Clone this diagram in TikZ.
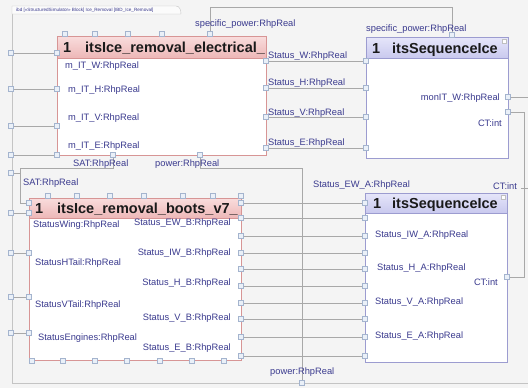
\documentclass[tikz,border=0pt]{standalone}
\usepackage{fontspec}
\setmainfont{Liberation Sans}
\definecolor{bgc}{HTML}{F4F4F4}
\definecolor{framec}{HTML}{C4C4C4}
\definecolor{conc}{HTML}{A8A8A8}
\definecolor{lblc}{HTML}{3A3A8E}
\definecolor{prtf}{HTML}{EAF0F8}
\definecolor{prtd}{HTML}{A4B4CE}
\definecolor{redtop}{HTML}{F9DDDD}
\definecolor{redbot}{HTML}{EDB7B7}
\definecolor{redbd}{HTML}{D79595}
\definecolor{bluetop}{HTML}{E6E6FA}
\definecolor{bluebot}{HTML}{C9C9EE}
\definecolor{bluebd}{HTML}{9C9CD0}
\definecolor{titlec}{HTML}{1A1A1A}
\newcommand\prt[3]{\node[prt] (#1) at (#2,#3) {};}
\newcommand\blk[9]{% name x1 y1 x2 y2 yh top bot border
  \node[draw=none,fill=white,minimum width=#4pt-#2pt,minimum height=#5pt-#3pt,inner sep=0pt,anchor=north west] (#1) at (#2,#3) {};
  \shade[top color=#7,bottom color=#8] (#2,#3) rectangle (#4,#6);
  \draw[#9,line width=0.8pt] (#2,#3) rectangle (#4,#5);
  \draw[#9,line width=0.5pt] (#2,#6) -- (#4,#6);}
\begin{document}
\begin{tikzpicture}[x=1pt,y=-1pt,
  prt/.style={draw=prtd,fill=prtf,line width=0.35pt,minimum size=5pt,inner sep=0pt},
  con/.style={draw=conc,line width=0.6pt},
  lbl/.style={text=lblc,font=\fontsize{9.3}{11}\selectfont,inner sep=0pt},
  ttl/.style={text=titlec,font=\fontsize{14.5}{16}\selectfont\bfseries,inner sep=0pt,anchor=base west},
  icn/.style={draw=gray!50,fill=white,minimum size=4pt,inner sep=0pt,line width=0.3pt}]
\useasboundingbox (0,0) rectangle (528,388);
\fill[bgc] (0,0) rectangle (528,388);
% frame
\draw[framec,line width=0.5pt] (12,14) -- (12,383) -- (528,383);
\draw[framec,fill=white!60!bgc,line width=0.4pt] (12,14) -- (12,6) -- (176,6) to[out=0,in=90] (181,14) -- cycle;
\node[text=lblc,font=\fontsize{4.6}{5}\selectfont,anchor=west,inner sep=0pt] (tab) at (16,10) {ibd [«StructuredSimulator» Block] Ice\_Removal [IBD\_Ice\_Removal]};
% blocks
\blk{elec}{57}{36}{266}{155}{58}{redtop}{redbot}{redbd}
\blk{seqa}{366}{37}{508}{158}{58}{bluetop}{bluebot}{bluebd}
\blk{boots}{29}{198}{241}{360}{218}{redtop}{redbot}{redbd}
\blk{seqb}{365}{193}{507}{362}{213}{bluetop}{bluebot}{bluebd}
\node[ttl] (t1n) at (63,52.5) {1};
\node[ttl] (t1) at (85,52.5) {itsIce\_removal\_electrical\_};
\node[ttl] (t2n) at (372,53) {1};
\node[ttl] (t2) at (392,53) {itsSequenceIce};
\node[ttl] (t3n) at (35,213.5) {1};
\node[ttl] (t3) at (57,213.5) {itsIce\_removal\_boots\_v7\_};
\node[ttl] (t4n) at (373,208.5) {1};
\node[ttl] (t4) at (392,208.5) {itsSequenceIce};
\node[icn] (ic1) at (504,41) {};
\node[icn] (ic2) at (503,197) {};
% coordinates
\coordinate (topc) at (210,7);
\coordinate (monend) at (528,97);
\coordinate (ctr) at (524,112);
\coordinate (ctstubA) at (521,188);
\coordinate (ctstubB) at (528,188);
\coordinate (j1) at (20,168);
\coordinate (jp) at (302,168);
% electrical ports
\prt{fl1}{11}{53}\prt{fl2}{11}{89}\prt{fl3}{11}{126}\prt{fl4}{11}{155}
\prt{el1}{57}{53}\prt{el2}{57}{89}\prt{el3}{57}{126}\prt{el4}{57}{155}
\prt{et1}{65}{34}\prt{et2}{95}{34}\prt{et3}{128}{34}\prt{et4}{162}{34}\prt{esp}{210}{34}
\prt{er1}{266}{61}\prt{er2}{266}{88}\prt{er3}{266}{117}\prt{er4}{266}{148}
\prt{esat}{113}{155}\prt{epow}{200}{155}
% seq a ports
\prt{sl1}{366}{61}\prt{sl2}{366}{88}\prt{sl3}{366}{117}\prt{sl4}{366}{148}
\prt{ssp}{452}{35}\prt{smon}{508}{97}\prt{sct}{508}{112}
% boots ports
\prt{fsat}{11}{173}\prt{fb1}{11}{213}\prt{fb2}{11}{253}\prt{fb3}{11}{297}\prt{fb4}{11}{333}
\prt{bsat}{29}{203}\prt{bl1}{29}{213}\prt{bl2}{29}{253}\prt{bl3}{29}{297}\prt{bl4}{29}{333}
\foreach \x [count=\i] in {48,77,110,144,183,213,241} {\prt{bt\i}{\x}{196}}
\foreach \x [count=\i] in {32,63,95,127,160,192,224} {\prt{bb\i}{\x}{361}}
\foreach \y [count=\i] in {203,218,236,253,269,286,303,319,337,356} {\prt{br\i}{241}{\y}\prt{ql\i}{365}{\y}}
\prt{qct}{507}{277}
\prt{fpow}{302}{383}
% connectors
\foreach \i in {1,...,4} {\draw[con] (fl\i) -- (el\i); \draw[con] (er\i) -- (sl\i); \draw[con] (fb\i) -- (bl\i);}
\foreach \i in {1,...,10} {\draw[con] (br\i) -- (ql\i);}
\draw[con] (esp.north) -- (esp.north |- topc) -| (ssp.north);
\draw[con] (smon) -- (monend);
\draw[con] (sct) -- (ctr) |- (qct);
\draw[con] (ctstubA) -- (ctstubB);
\draw[con] (esat.south) |- (j1) |- (bsat);
\draw[con] (fsat) -- (fsat -| j1);
\draw[con] (epow.south) |- (jp) -- (fpow);
% labels electrical
\node[lbl,anchor=west] (la1) at (195,24) {specific\_power:RhpReal};
\node[lbl,anchor=west] (la2) at (65,66) {m\_IT\_W:RhpReal};
\node[lbl,anchor=west] (la3) at (68,90) {m\_IT\_H:RhpReal};
\node[lbl,anchor=west] (la4) at (68,118) {m\_IT\_V:RhpReal};
\node[lbl,anchor=west] (la5) at (68,146) {m\_IT\_E:RhpReal};
\node[lbl,anchor=west] (la6) at (268,56) {Status\_W:RhpReal};
\node[lbl,anchor=west] (la7) at (268,83) {Status\_H:RhpReal};
\node[lbl,anchor=west] (la8) at (268,113) {Status\_V:RhpReal};
\node[lbl,anchor=west] (la9) at (268,143) {Status\_E:RhpReal};
\node[lbl,anchor=west] (la10) at (73,164) {SAT:RhpReal};
\node[lbl,anchor=west] (la11) at (155,164) {power:RhpReal};
% labels seq a
\node[lbl,anchor=west] (lb1) at (366,29) {specific\_power:RhpReal};
\node[lbl,anchor=east] (lb2) at (500,98) {monIT\_W:RhpReal};
\node[lbl,anchor=east] (lb3) at (502,123) {CT:int};
% labels boots
\node[lbl,anchor=west] (lc1) at (23,183) {SAT:RhpReal};
\node[lbl,anchor=west] (lc2) at (33,225) {StatusWing:RhpReal};
\node[lbl,anchor=west] (lc3) at (35,263) {StatusHTail:RhpReal};
\node[lbl,anchor=west] (lc4) at (35,305) {StatusVTail:RhpReal};
\node[lbl,anchor=west] (lc5) at (38,338) {StatusEngines:RhpReal};
\node[lbl,anchor=east] (lc6) at (231,223) {Status\_EW\_B:RhpReal};
\node[lbl,anchor=east] (lc7) at (231,253) {Status\_IW\_B:RhpReal};
\node[lbl,anchor=east] (lc8) at (231,283) {Status\_H\_B:RhpReal};
\node[lbl,anchor=east] (lc9) at (231,318) {Status\_V\_B:RhpReal};
\node[lbl,anchor=east] (lc10) at (231,348) {Status\_E\_B:RhpReal};
% labels seq b
\node[lbl,anchor=west] (ld1) at (313,185) {Status\_EW\_A:RhpReal};
\node[lbl,anchor=west] (ld2) at (493,186) {CT:int};
\node[lbl,anchor=west] (ld3) at (375,235) {Status\_IW\_A:RhpReal};
\node[lbl,anchor=west] (ld4) at (377,268) {Status\_H\_A:RhpReal};
\node[lbl,anchor=west] (ld5) at (375,302) {Status\_V\_A:RhpReal};
\node[lbl,anchor=west] (ld6) at (375,336) {Status\_E\_A:RhpReal};
\node[lbl,anchor=east] (ld7) at (498,282) {CT:int};
\node[lbl,anchor=west] (ld8) at (270,372) {power:RhpReal};
\end{tikzpicture}
\end{document}
